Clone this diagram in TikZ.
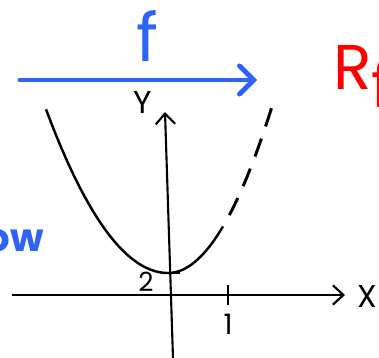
\documentclass[tikz,border=0pt]{standalone}
\usepackage{fontspec}
\setsansfont{Poppins}
\usepackage{xcolor}
\usetikzlibrary{arrows.meta}
\definecolor{fblue}{RGB}{45,100,245}
\definecolor{rfred}{RGB}{255,0,0}

\begin{document}
\begin{tikzpicture}[x=0.02cm,y=-0.02cm,
    axisline/.style={line width=1.2pt, -{Straight Barb[length=6pt,width=11pt]}},
    curveline/.style={line width=1.4pt},
    hand/.style={inner sep=0pt, font=\sffamily}]
    \useasboundingbox (0,0) rectangle (379,358);
    \clip (0,0) rectangle (379,358);

    % 映射 f
    \coordinate (fstart) at (20,80);
    \coordinate (fend) at (257,80);
    \draw[fblue, line width=2.8pt, line cap=round,
        -{Straight Barb[length=8pt,width=16pt,line cap=round]}] (fstart) -- (fend);
    \node[hand, fblue, font=\sffamily\fontsize{38}{38}\selectfont] (flab) at (147,36) {f};

    % 值域 R_f 与左侧文字
    \node[hand, rfred, anchor=base west, font=\sffamily\fontsize{36}{36}\selectfont]
        (rflab) at (333,90) {R\raisebox{-10pt}{f}};
    \node[hand, fblue, anchor=base east, font=\sffamily\bfseries\fontsize{22}{22}\selectfont]
        (owlab) at (44,252) {ow};

    % 坐标轴
    \coordinate (xl) at (12,295);
    \coordinate (xr) at (345,295);
    \coordinate (yb) at (173,358);
    \coordinate (yt) at (165,112);
    \draw[axisline] (xl) -- (xr);
    \draw[axisline] (yb) -- (yt);
    \node[hand, font=\sffamily\fontsize{18}{18}\selectfont] (xlab) at (367,296) {X};
    \node[hand, font=\sffamily\fontsize{18}{18}\selectfont] (ylab) at (143,102) {Y};

    % 刻度
    \draw[curveline] (228,285) -- (228,305);
    \draw[curveline] (163,273) -- (180,273);
    \node[hand, font=\sffamily\fontsize{16}{16}\selectfont] (onelab) at (228,324) {1};
    \node[hand, font=\sffamily\fontsize{15}{15}\selectfont] (twolab) at (146,282) {2};

    % 抛物线（实线 + 虚线）
    \draw[curveline, line join=round] plot[domain=46:168, samples=50, smooth] (\x, {273-0.011*(\x-168)^2})
        -- plot[domain=168:223, samples=25, smooth] (\x, {273-0.0154*(\x-168)^2});
    \draw[line width=1.7pt, dash pattern=on 10.8pt off 7.4pt, dash phase=10.8pt]
        plot[domain=223:273, samples=30, smooth] (\x, {273-0.0154*(\x-168)^2});
\end{tikzpicture}
\end{document}
